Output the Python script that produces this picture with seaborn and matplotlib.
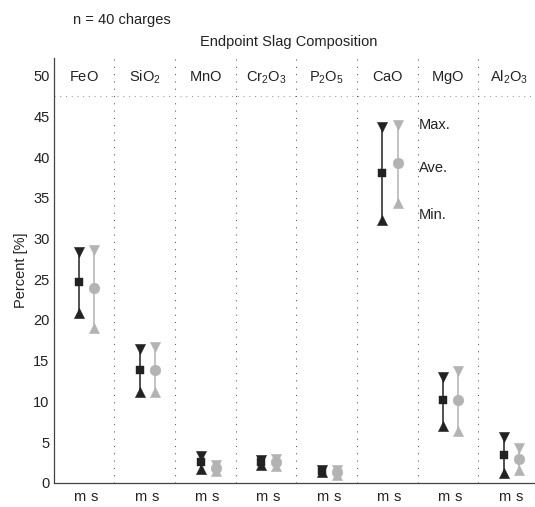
import matplotlib
matplotlib.use('Agg')
import matplotlib.pyplot as plt
import seaborn as sns
import pandas as pd

# ---- data ----
components = [r"$\mathregular{FeO}$", r"$\mathregular{SiO_2}$", r"$\mathregular{MnO}$",
              r"$\mathregular{Cr_2O_3}$", r"$\mathregular{P_2O_5}$", r"$\mathregular{CaO}$",
              r"$\mathregular{MgO}$", r"$\mathregular{Al_2O_3}$"]
m_max = [28.3, 16.4, 3.3, 2.8, 1.6, 43.7, 13.0, 5.6]
m_ave = [24.6, 13.8, 2.5, 2.5, 1.5, 38.1, 10.1, 3.4]
m_min = [20.8, 11.2, 1.7, 2.2, 1.35, 32.3, 7.0, 1.2]
s_max = [28.6, 16.7, 2.2, 2.9, 1.6, 44.0, 13.7, 4.3]
s_ave = [23.9, 13.8, 1.8, 2.5, 1.3, 39.3, 10.1, 2.9]
s_min = [19.0, 11.1, 1.4, 2.1, 0.95, 34.3, 6.3, 1.6]
series_labels = ["m", "s"]
yticks = [0, 5, 10, 15, 20, 25, 30, 35, 40, 45, 50]
stat_labels = ["Max.", "Ave.", "Min."]
stat_label_y = [43.9, 38.6, 32.9]

sns.set_style("white")
plt.rcParams['font.family'] = ['Liberation Sans', 'DejaVu Sans']
plt.rcParams['mathtext.fontset'] = 'custom'
plt.rcParams['mathtext.rm'] = 'Liberation Sans'
plt.rcParams['font.size'] = 10

TXT = '#222222'
BLACK = '#222222'
GRAY = '#b3b3b3'

fig = plt.figure(figsize=(5.35, 5.07), dpi=100)
ax = fig.add_axes([0.1004, 0.0479, 0.907, 0.8377])

n = len(components)
off = {"m": 0.42, "s": 0.67}
rows = []
for i in range(n):
    for src, mx, av, mn in (("m", m_max[i], m_ave[i], m_min[i]),
                            ("s", s_max[i], s_ave[i], s_min[i])):
        rows.append(dict(x=i + off[src], src=src, max=mx, ave=av, min=mn))
df = pd.DataFrame(rows)

ylim_top = 52.17
# grid dotted lines
ax.vlines(range(1, n), 0, ylim_top, colors='#555555', linestyles=(0, (1, 6)), lw=0.75, zorder=1)
ax.hlines(47.5, 0, n, colors='#999999', linestyles=(0, (1, 4.5)), lw=0.75, zorder=1)

for src, col, avemark, avesize in (("m", BLACK, 's', 36), ("s", GRAY, 'o', 60)):
    d = df[df.src == src]
    ax.vlines(d.x, d['min'], d['max'], colors=col, lw=1.1, zorder=2)
    sns.scatterplot(data=d, x='x', y='max', marker='v', s=55, color=col,
                    edgecolor=col, linewidth=0.3, ax=ax, zorder=3, legend=False)
    sns.scatterplot(data=d, x='x', y='min', marker='^', s=55, color=col,
                    edgecolor=col, linewidth=0.3, ax=ax, zorder=3, legend=False)
    sns.scatterplot(data=d, x='x', y='ave', marker=avemark, s=avesize, color=col,
                    edgecolor=col, linewidth=0.3, ax=ax, zorder=4, legend=False)

# component labels
for i, lab in enumerate(components):
    ax.text(i + 0.5, 49.3, lab, ha='center', va='baseline', fontsize=10.5, color=TXT)

for lab, yv in zip(stat_labels, stat_label_y):
    ax.text(6.02, yv, lab, ha='left', va='center', fontsize=10.5, color=TXT)

ax.set_xlim(0, n)
ax.set_ylim(0, ylim_top)
ax.set_yticks(yticks)
xt = []
xl = []
for i in range(n):
    for s in series_labels:
        xt.append(i + off[s])
        xl.append(s)
ax.set_xticks(xt)
ax.set_xticklabels(xl)
ax.tick_params(axis='x', length=0, pad=5, labelsize=10.5, colors=TXT)
ax.tick_params(axis='y', direction='in', length=4, width=0.8, pad=3, labelsize=10.5,
               colors='#333333', labelcolor=TXT)
ax.set_xlabel('')
ax.set_ylabel('Percent [%]', fontsize=10.5, color=TXT, labelpad=4)

for sp in ('top', 'right'):
    ax.spines[sp].set_visible(False)
for sp in ('left', 'bottom'):
    ax.spines[sp].set_color('#444444')
    ax.spines[sp].set_linewidth(0.9)

fig.text(72.7 / 535, 1 - 20 / 507, 'n = 40 charges', ha='left', va='center', fontsize=10.5, color=TXT)
fig.text(289 / 535, 1 - 41.7 / 507, 'Endpoint Slag Composition', ha='center', va='center',
         fontsize=10.5, color=TXT)

fig.savefig('out.png', dpi=100)
